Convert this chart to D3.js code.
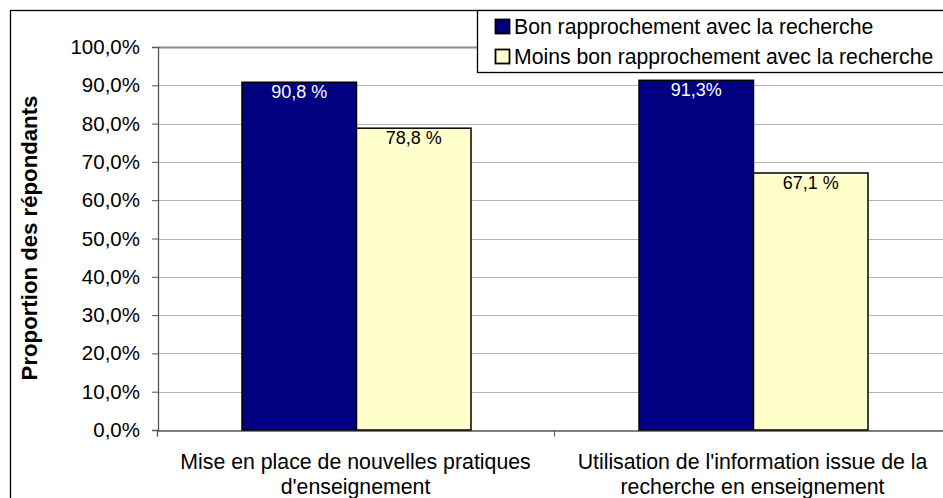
<!DOCTYPE html>
<html>
<head>
<meta charset="utf-8">
<script src="https://cdn.jsdelivr.net/npm/d3@7"></script>
<style>
  html, body { margin: 0; padding: 0; background: #fff; }
  svg { display: block; font-family: "Liberation Sans", Arial, sans-serif; }
</style>
</head>
<body>
<svg id="chart" width="943" height="498"></svg>
<script>
// ---- data ----
const categories = [
  ["Mise en place de nouvelles pratiques", "d'enseignement"],
  ["Utilisation de l'information issue de la", "recherche en enseignement"]
];
const seriesNames = ["Bon rapprochement avec la recherche", "Moins bon rapprochement avec la recherche"];
const bonValues = [0.908, 0.913];
const moinsValues = [0.788, 0.671];
const bonLabels = ["90,8 %", "91,3%"];
const moinsLabels = ["78,8 %", "67,1 %"];
const yTicks = [0, 0.1, 0.2, 0.3, 0.4, 0.5, 0.6, 0.7, 0.8, 0.9, 1.0];
const yTitle = "Proportion des répondants";
const colors = ["#000080", "#FFFFCC"];

const svg = d3.select("#chart");
const catIdx = categories.map((c, i) => i);

const x = d3.scaleBand().domain(catIdx).range([157, 951]).paddingInner(0).paddingOuter(0);
const xs = d3.scaleBand().domain([0, 1]).range([85, 85 + 229]);
const y = d3.scaleLinear().domain([0, 1]).range([430, 47]);

// outer border
svg.append("rect").attr("x", 10.5).attr("y", 10.5).attr("width", 1000).attr("height", 1000)
  .attr("fill", "none").attr("stroke", "#000").attr("stroke-width", 1.3);

// gridlines
svg.append("g").selectAll("line").data(yTicks.filter(t => t > 0)).join("line")
  .attr("x1", 158).attr("x2", 951)
  .attr("y1", d => Math.round(y(d)) + 0.5).attr("y2", d => Math.round(y(d)) + 0.5)
  .attr("stroke", d => d === 1 ? "#8c8c8c" : "#b4b4b4")
  .attr("stroke-width", d => d === 1 ? 2 : 1);

// y axis
const yAxis = d3.axisLeft(y).tickValues(yTicks).tickSize(6).tickPadding(12)
  .tickFormat(d => d3.format(".1f")(d * 100).replace(".", ",") + "%");
const gy = svg.append("g").attr("transform", "translate(158,0)").call(yAxis);
gy.select(".domain").attr("stroke", "#555").attr("stroke-width", 1.3);
gy.selectAll(".tick line").attr("stroke", "#555");
gy.selectAll(".tick text").attr("font-size", 20.5).attr("fill", "#000")
  .attr("font-family", "'Liberation Sans', Arial, sans-serif");

// x axis
const xAxisScale = d3.scaleLinear().domain([0, 2]).range([157, 951]);
const xAxis = d3.axisBottom(xAxisScale).tickValues([0, 1, 2]).tickSize(6).tickFormat("");
const gx = svg.append("g").attr("transform", "translate(0,430.5)").call(xAxis);
gx.select(".domain").attr("stroke", "#555").attr("stroke-width", 1.3);
gx.selectAll(".tick line").attr("stroke", "#555");

// x labels
const xl = svg.append("g").selectAll("text").data(categories).join("text")
  .attr("x", (d, i) => x(i) + x.bandwidth() / 2)
  .attr("y", 469)
  .attr("text-anchor", "middle").attr("font-size", 21.3).attr("fill", "#000");
xl.each(function (d) {
  const t = d3.select(this);
  d.forEach((line, j) => {
    t.append("tspan").attr("x", t.attr("x")).attr("dy", j === 0 ? 0 : 25).text(line);
  });
});

// bars
const seriesData = [bonValues, moinsValues];
const labelData = [bonLabels, moinsLabels];
seriesData.forEach((vals, s) => {
  svg.append("g").selectAll("rect").data(vals).join("rect")
    .attr("x", (d, i) => x(i) + xs(s))
    .attr("y", d => y(d))
    .attr("width", xs.bandwidth())
    .attr("height", d => y(0) - y(d))
    .attr("fill", colors[s]).attr("stroke", "#000").attr("stroke-width", 1.5);
  svg.append("g").selectAll("text").data(vals).join("text")
    .attr("x", (d, i) => x(i) + xs(s) + xs.bandwidth() / 2)
    .attr("y", d => y(d) + 16)
    .attr("text-anchor", "middle").attr("font-size", 18)
    .attr("fill", s === 0 ? "#fff" : "#000")
    .text((d, i) => labelData[s][i]);
});

// y title
svg.append("text")
  .attr("transform", "translate(37,238) rotate(-90)")
  .attr("text-anchor", "middle").attr("font-size", 22.2).attr("font-weight", "bold")
  .text(yTitle);

// legend
const lg = svg.append("g");
lg.append("rect").attr("x", 477.5).attr("y", 10.5).attr("width", 600).attr("height", 62)
  .attr("fill", "#fff").attr("stroke", "#000").attr("stroke-width", 1.3);
const items = lg.selectAll("g.item").data(seriesNames).join("g").attr("class", "item")
  .attr("transform", (d, i) => `translate(495,${19 + i * 30})`);
items.append("rect").attr("x", 0.5).attr("y", 0.5).attr("width", 14).attr("height", 14)
  .attr("fill", (d, i) => colors[i]).attr("stroke", "#000").attr("stroke-width", 1.8);
items.append("text").attr("x", 19).attr("y", 14.5).attr("font-size", 21.2).attr("fill", "#000")
  .text(d => d);
</script>
</body>
</html>
